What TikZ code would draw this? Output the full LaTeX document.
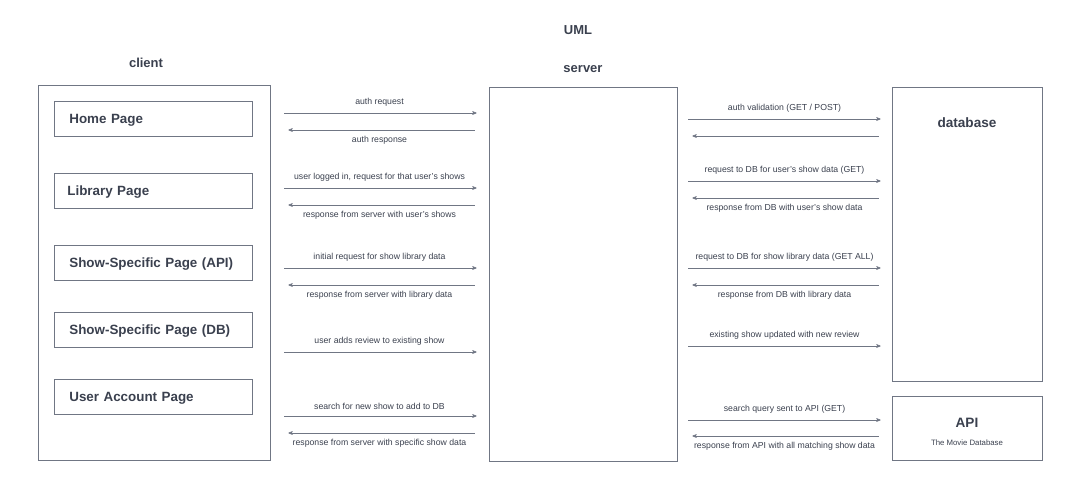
\documentclass[tikz,border=0pt]{standalone}
\usepackage{fontspec}
\setmainfont{Liberation Sans}
\usetikzlibrary{arrows}
\usetikzlibrary{positioning}

\definecolor{ink}{RGB}{58,64,78}
\definecolor{edge}{RGB}{112,118,132}

\begin{document}
\begin{tikzpicture}[x=1pt, y=-1pt,
  box/.style={draw=edge, line width=0.7pt, inner sep=0pt},
  page/.style={box, minimum height=35pt, text width=168pt, inner xsep=15pt, text depth=0pt, align=left, anchor=west, text=ink, font=\fontsize{13.4}{15}\selectfont\bfseries},
  title/.style={text=ink, font=\fontsize{13}{15}\selectfont\bfseries},
  msg/.style={draw=edge, line width=0.6pt, ->, >=stealth'},
  lbl/.style={text=ink, inner sep=1pt, font=\fontsize{8.7}{10}\selectfont}]
\useasboundingbox (0,0) rectangle (1073,499);

% lifelines
\node[box, minimum width=232pt, minimum height=375pt] (client) at (154,272.5) {};
\node[box, minimum width=188pt, minimum height=374pt] (server) at (583,274) {};
\node[box, minimum width=150pt, minimum height=294pt] (db) at (967,234) {};
\node[box, minimum width=150pt, minimum height=64pt] (api) at (967,428) {};

\node[title] (uml) at (578,30) {UML};
\node[title] (clientname) at (146,63) {client};
\node[title] (servername) at (583,69) {server};
\node[title, font=\fontsize{13.6}{15}\selectfont\bfseries] (dbname) at (967,123) {database};
\node[title, font=\fontsize{13.6}{15}\selectfont\bfseries] (apiname) at (967,423) {API};
\node[lbl, font=\fontsize{7.8}{9}\selectfont] (tmdb) at (967,443) {The Movie Database};

% client pages
\node[page] (home) at (54,118.5) {Home Page};
\node[page, text width=172pt, inner xsep=13pt] (library) at (54,190.5) {Library Page};
\node[page] (showapi) at (54,262.5) {Show-Specific Page (API)};
\node[page] (showdb) at (54,330) {Show-Specific Page (DB)};
\node[page] (account) at (54,396.5) {User Account Page};

% client <-> server
\foreach \y/\txt in {113/auth request, 188/{user logged in, request for that user's shows}, 268/initial request for show library data, 352/user adds review to existing show, 416/search for new show to add to DB}
  \draw[msg, shorten <=14pt, shorten >=12pt] (client.east |- 0,\y) -- (server.west |- 0,\y) node[midway, above=5pt, lbl] {\txt};
\foreach \y/\txt in {130/auth response, 205/response from server with user's shows, 285/response from server with library data, 433/response from server with specific show data}
  \draw[msg, shorten <=14pt, shorten >=18pt] (server.west |- 0,\y) -- (client.east |- 0,\y) node[midway, below=5pt, lbl] {\txt};

% server <-> database / api
\foreach \y/\tgt/\txt in {119/db/{auth validation (GET / POST)}, 181/db/{request to DB for user's show data (GET)}, 268/db/{request to DB for show library data (GET ALL)}, 346/db/existing show updated with new review, 420/api/{search query sent to API (GET)}}
  \draw[msg, shorten <=11pt, shorten >=11pt] (server.east |- 0,\y) -- (\tgt.west |- 0,\y) node[midway, above=5pt, lbl] {\txt};
\foreach \y/\tgt/\txt in {136/db/{}, 198/db/{response from DB with user's show data}, 285/db/{response from DB with library data}, 436/api/{response from API with all matching show data}}
  \draw[msg, shorten <=13pt, shorten >=15pt] (\tgt.west |- 0,\y) -- (server.east |- 0,\y) node[midway, below=5pt, lbl] {\txt};
\end{tikzpicture}
\end{document}
